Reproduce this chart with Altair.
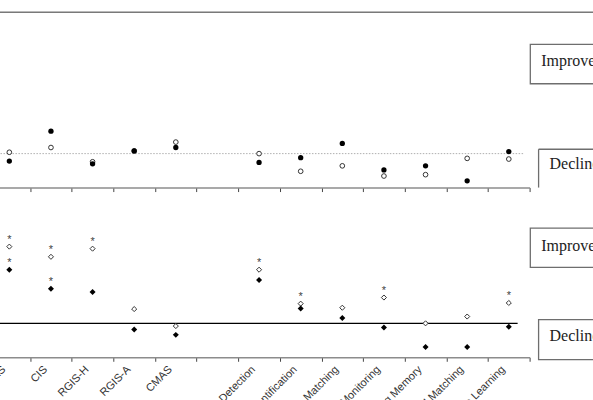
import altair as alt
import pandas as pd

# Measures along the x axis; the blank entry is a spacer between the two groups
tests = ["CGAS", "CIS", "RGIS-H", "RGIS-A", "CMAS", "",
         "Detection", "Identification", "Pattern Matching",
         "Continuous Monitoring", "Working Memory", "Delayed Matching",
         "Associate Learning"]

# Upper panel (circles): change scores
top_filled = [-0.11, 0.33, -0.15, 0.04, 0.09, None, -0.13, -0.06, 0.15, -0.24, -0.18, -0.40, 0.03]
top_open = [0.02, 0.09, -0.12, 0.04, 0.17, None, 0.00, -0.26, -0.18, -0.33, -0.31, -0.07, -0.08]

# Lower panel (diamonds): change scores and significance flags
bottom_filled = [0.79, 0.51, 0.46, -0.09, -0.17, None, 0.64, 0.22, 0.08, -0.06, -0.35, -0.35, -0.05]
bottom_open = [1.13, 0.98, 1.10, 0.21, -0.04, None, 0.79, 0.29, 0.23, 0.38, 0.00, 0.10, 0.30]
bottom_filled_sig = [True, True, False, False, False, False, False, False, False, False, False, False, False]
bottom_open_sig = [True, True, True, False, False, False, True, True, False, True, False, False, True]

W = 542
H = 136
Y_DOMAIN = [-0.5, 1.5]


def frame(values, flags=None):
    rows = []
    for i, (t, v) in enumerate(zip(tests, values)):
        if v is None:
            continue
        if flags is not None and not flags[i]:
            continue
        rows.append({"test": t, "value": v})
    return pd.DataFrame(rows)


def x_enc(show_labels):
    return alt.X(
        "test:N",
        sort=tests,
        scale=alt.Scale(domain=tests, paddingInner=0, paddingOuter=0),
        axis=alt.Axis(
            title=None, labels=show_labels, labelAngle=-45, labelFontSize=11,
            labelFont="Liberation Sans", labelColor="#333333",
            labelAlign="right", labelBaseline="top",
            labelPadding=2, labelOffset=-10,
            tickBand="extent", tickSize=4, tickColor="#444444", tickWidth=1,
            domainColor="#8c8c8c", domainWidth=1.6, grid=False,
        ),
    )


y_enc = alt.Y("value:Q", scale=alt.Scale(domain=Y_DOMAIN), axis=None)
one = pd.DataFrame({"k": [0]})


def box(x1, x2, y1, y2):
    return alt.Chart(one).mark_rect(fill="white", stroke="#6e6e6e", strokeWidth=1.3).encode(
        x=alt.value(x1), x2=alt.value(x2), y=alt.value(y1), y2=alt.value(y2))


def label(text, x, y):
    return alt.Chart(pd.DataFrame({"t": [text]})).mark_text(
        align="left", baseline="alphabetic", font="Liberation Serif",
        fontSize=16, color="#222222").encode(x=alt.value(x), y=alt.value(y), text="t:N")


def edge(x1, x2, y1, y2):
    return alt.Chart(one).mark_rule(color="#6e6e6e", strokeWidth=1.3).encode(
        x=alt.value(x1), x2=alt.value(x2), y=alt.value(y1), y2=alt.value(y2))


# ---------- upper panel ----------
top_ref = alt.Chart(pd.DataFrame({"value": [0]})).mark_rule(
    color="#b0b0b0", strokeWidth=1, strokeDash=[1.5, 1.5]).encode(
    y=alt.Y("value:Q", scale=alt.Scale(domain=Y_DOMAIN), axis=None),
    x=alt.value(-60), x2=alt.value(537))
frame_line = alt.Chart(one).mark_rule(color="#333333", strokeWidth=1).encode(
    x=alt.value(-60), x2=alt.value(650), y=alt.value(-39.7))
top_open_pts = alt.Chart(frame(top_open)).mark_point(
    shape="circle", size=22, fill="white", fillOpacity=1, stroke="#333333", strokeWidth=1).encode(
    x=x_enc(False), y=y_enc)
top_filled_pts = alt.Chart(frame(top_filled)).mark_point(
    shape="circle", size=28, filled=True, color="black", opacity=1).encode(
    x=x_enc(False), y=y_enc)

top = alt.layer(
    frame_line, top_ref, top_open_pts, top_filled_pts,
    box(542.7, 650, -7.4, 32), label("Improvement", 553.7, 14),
    edge(551, 650, 97.6, 97.6), edge(551, 551, 97.6, 136),
    label("Decline", 562, 117.5),
).properties(width=W, height=H)

# ---------- lower panel ----------
bottom_ref = alt.Chart(pd.DataFrame({"value": [0]})).mark_rule(
    color="black", strokeWidth=1.2).encode(
    y=alt.Y("value:Q", scale=alt.Scale(domain=Y_DOMAIN), axis=None),
    x=alt.value(-60), x2=alt.value(530))
bottom_open_pts = alt.Chart(frame(bottom_open)).mark_point(
    shape="diamond", size=26, fill="white", fillOpacity=1, stroke="#333333", strokeWidth=1).encode(
    x=x_enc(True), y=y_enc)
bottom_filled_pts = alt.Chart(frame(bottom_filled)).mark_point(
    shape="diamond", size=36, filled=True, color="black", opacity=1).encode(
    x=x_enc(True), y=y_enc)
star_style = dict(text="*", fontSize=11, font="Liberation Sans", color="#444444",
                  baseline="middle", dy=-7)
stars_open = alt.Chart(frame(bottom_open, bottom_open_sig)).mark_text(**star_style).encode(
    x=x_enc(True), y=y_enc)
stars_filled = alt.Chart(frame(bottom_filled, bottom_filled_sig)).mark_text(**star_style).encode(
    x=x_enc(True), y=y_enc)

bottom = alt.layer(
    bottom_ref, bottom_open_pts, bottom_filled_pts, stars_open, stars_filled,
    box(542.7, 650, 6.7, 46), label("Improvement", 553.7, 29.3),
    box(551, 650, 98.3, 138.3), label("Decline", 562, 119.3),
).properties(width=W, height=H)

chart = alt.vconcat(top, bottom, spacing=29).properties(
    padding={"left": -72.5, "top": 10.5, "right": -45.5, "bottom": 0},
).configure_view(stroke=None)

chart.save("out.html", embed_options={"renderer": "svg", "actions": False})
